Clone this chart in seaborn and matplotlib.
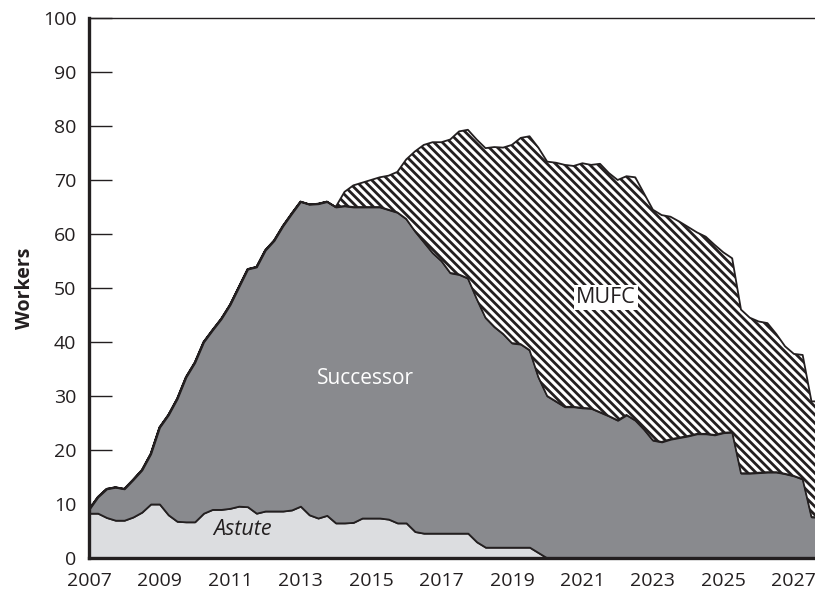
import numpy as np
import matplotlib
matplotlib.use("Agg")
import matplotlib.pyplot as plt
import seaborn as sns
from matplotlib.ticker import MultipleLocator

# quarterly time points
years = [2007 + 0.25 * i for i in range(84)]
label_years = [2007, 2009, 2011, 2013, 2015, 2017, 2019, 2021, 2023, 2025, 2027]

astute = [8.3, 8.3, 7.5, 7.0, 7.0, 7.6, 8.5, 10.0, 10.0, 8.0, 6.8, 6.7,
          6.7, 8.3, 9.0, 9.0, 9.2, 9.6, 9.5, 8.3, 8.7, 8.7, 8.7, 8.9,
          9.6, 8.0, 7.4, 7.9, 6.5, 6.5, 6.6, 7.4, 7.4, 7.4, 7.2, 6.5,
          6.5, 4.9, 4.6, 4.6, 4.6, 4.6, 4.6, 4.6, 3.0, 2.0, 2.0, 2.0,
          2.0, 2.0, 2.0, 1.0, 0, 0, 0, 0, 0, 0, 0, 0,
          0, 0, 0, 0, 0, 0, 0, 0, 0, 0, 0, 0,
          0, 0, 0, 0, 0, 0, 0, 0, 0, 0, 0, 0]

successor = [0.7, 3.0, 5.3, 6.1, 5.8, 6.9, 7.8, 9.3, 14.2, 18.5, 22.7, 26.8,
             29.5, 31.7, 33.2, 35.3, 37.7, 40.6, 44.0, 45.6, 48.3, 50.1, 52.8, 54.9,
             56.4, 57.5, 58.2, 58.1, 58.5, 58.7, 58.4, 57.6, 57.6, 57.6, 57.3, 57.5,
             56.3, 55.6, 53.9, 51.9, 50.4, 48.2, 47.9, 47.2, 45.0, 42.5, 40.8, 39.5,
             37.8, 37.6, 36.5, 32.5, 30.0, 29.0, 28.0, 28.0, 27.8, 27.7, 27.0, 26.3,
             25.5, 26.5, 25.5, 23.8, 21.8, 21.5, 22.0, 22.3, 22.6, 23.0, 23.0, 22.8,
             23.2, 23.3, 15.7, 15.7, 15.8, 15.9, 15.9, 15.6, 15.2, 14.6, 7.6, 7.5]

mufc = [0, 0, 0, 0, 0, 0, 0, 0, 0, 0, 0, 0,
        0, 0, 0, 0, 0, 0, 0, 0, 0, 0, 0, 0,
        0, 0, 0, 0, 0, 2.6, 4.0, 4.5, 5.0, 5.5, 6.3, 7.5,
        11.0, 14.8, 18.0, 20.5, 22.0, 24.7, 26.5, 27.5, 29.5, 31.4, 33.3, 34.5,
        36.7, 38.2, 39.6, 42.5, 43.4, 44.2, 44.8, 44.6, 45.3, 45.1, 46.0, 45.0,
        44.5, 44.2, 45.0, 43.7, 42.7, 42.0, 41.2, 40.0, 38.7, 37.3, 36.5, 35.2,
        33.4, 32.2, 30.3, 28.8, 28.0, 27.6, 25.6, 23.6, 22.6, 23.0, 21.4, 21.5]

dark = "#231f20"

sns.set_theme(style="white")
plt.rcParams["font.family"] = ["Open Sans", "DejaVu Sans"]
plt.rcParams["hatch.linewidth"] = 2.0

fig = plt.figure(figsize=(8.15, 5.92), dpi=100)
ax = fig.add_axes([89 / 815, 1 - 558 / 592, 1 - 89 / 815, (558 - 18) / 592])

polys = ax.stackplot(years, astute, successor, mufc,
                     colors=["#dcdde0", "#898a8e", "white"],
                     edgecolor=dark, linewidth=1.3)
polys[2].set_hatch("\\\\\\\\")

ax.set_xlim(2007, 2027.6)
ax.set_ylim(0, 100)

ax.set_xticks(label_years)
ax.set_xticklabels([str(y) for y in label_years])
ax.xaxis.set_minor_locator(MultipleLocator(1))
ax.yaxis.set_major_locator(MultipleLocator(10))
ax.tick_params(axis="x", which="both", direction="in", length=14.5, width=1,
               color=dark, labelsize=14, labelcolor=dark, pad=10, bottom=True)
ax.tick_params(axis="y", direction="in", length=16.5, width=1, color=dark,
               labelsize=14, labelcolor=dark, pad=9, left=True)

for side in ["left", "bottom"]:
    ax.spines[side].set_linewidth(2.4)
    ax.spines[side].set_color(dark)
ax.spines["top"].set_linewidth(1.0)
ax.spines["top"].set_color(dark)
ax.spines["right"].set_visible(False)
for s in ax.spines.values():
    s.set_zorder(5)

ax.set_ylabel("Workers", fontsize=14, fontweight="bold", color=dark, labelpad=6)

ax.text(2014.84, 33.3, "Successor", color="white", fontsize=15,
        ha="center", va="center")
ax.text(2021.66, 48.3, "MUFC", color=dark, fontsize=15.5, ha="center", va="center",
        bbox=dict(facecolor="white", edgecolor="none", pad=1.5))
ax.text(2011.37, 5.2, "Astute", color=dark, fontsize=15.5, style="italic",
        ha="center", va="center")

fig.savefig("out.png", dpi=100)
